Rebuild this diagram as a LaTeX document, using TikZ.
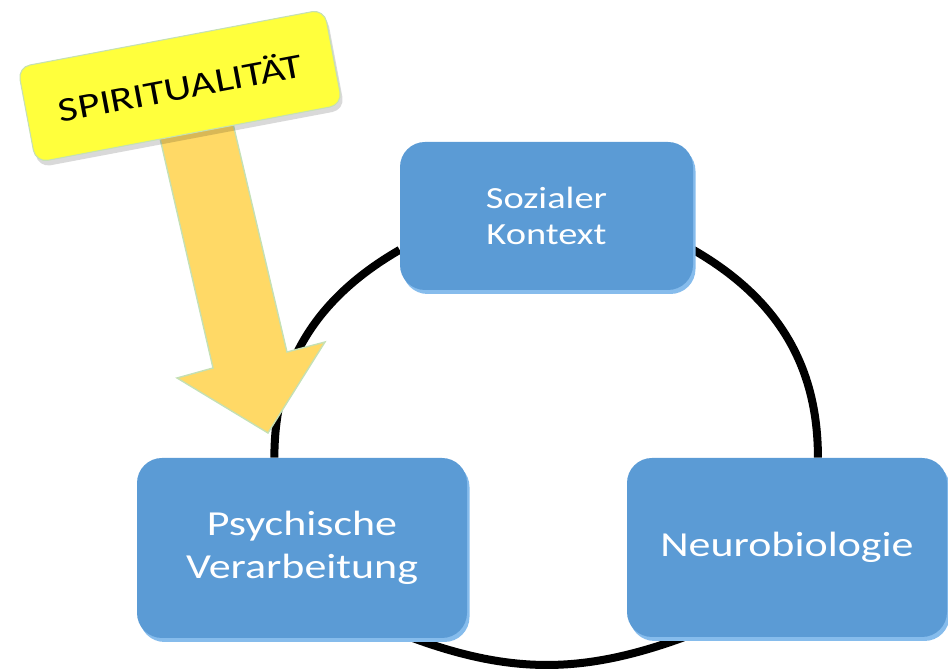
\documentclass[tikz,border=0pt]{standalone}
\usepackage{fontspec}
\setmainfont{Carlito}[FakeStretch=1.25]
\usetikzlibrary{shadows,backgrounds}
\definecolor{boxblue}{HTML}{5B9BD5}
\definecolor{rimblue}{HTML}{86BCEC}
\definecolor{signyellow}{HTML}{FFFF3C}
\definecolor{arrowgold}{HTML}{FFD966}
\definecolor{edgegreen}{HTML}{C5E0B4}

\begin{document}
\begin{tikzpicture}[boxnode/.style={fill=boxblue,rounded corners=0.5cm,align=center,text=white,inner sep=2pt,general shadow={fill=rimblue,shadow xshift=0.05cm,shadow yshift=-0.08cm}},ring/.style={line width=0.16cm,black}]
\useasboundingbox (0,0) rectangle (18.96,13.4);
\node[boxnode,minimum width=5.86cm,minimum height=2.96cm,font=\fontsize{17.5}{20.5}\selectfont] (soz) at (10.93,9.08) {Sozialer\\Kontext};
\node[boxnode,minimum width=6.6cm,minimum height=3.6cm,font=\fontsize{20}{24.5}\selectfont] (psy) at (6.04,2.44) {Psychische\\Verarbeitung};
\node[boxnode,minimum width=6.4cm,minimum height=3.58cm,font=\fontsize{20}{24}\selectfont] (neu) at (15.74,2.45) {Neurobiologie};
\begin{scope}[on background layer]
\draw[ring] (psy.107) to[out=90,in=210] (soz.193);
\draw[ring] (soz.-13) to[out=-30,in=90] (neu.71);
\draw[ring] (psy.-39) to[out=-20,in=200] (neu.221);
\end{scope}
\draw[edgegreen,line width=0.8pt,fill=arrowgold,line join=miter] (3.06,11.24) -- (4.26,6.04) -- (3.54,5.84) -- (5.36,4.74) -- (6.50,6.56) -- (5.74,6.36) -- (4.52,11.52) -- cycle;
\node[draw=edgegreen,line width=0.6pt,fill=signyellow,rounded corners=0.25cm,rotate=10.7,minimum width=6.24cm,minimum height=1.94cm,font=\fontsize{19.5}{22}\selectfont,general shadow={fill=black,opacity=0.15,shadow xshift=0.05cm,shadow yshift=-0.1cm}] (spirit) at (3.6,11.68) {SPIRITUALITÄT};
\end{tikzpicture}
\end{document}
